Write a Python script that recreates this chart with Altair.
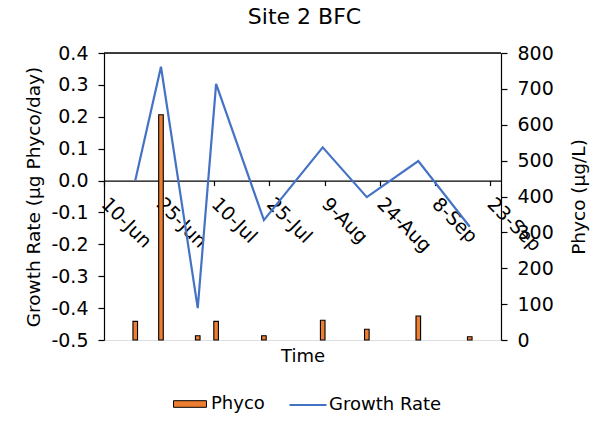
import altair as alt
import pandas as pd

# Sampling dates at Site 2 BFC
dates = ["2019-06-18", "2019-06-25", "2019-07-05", "2019-07-10", "2019-07-23",
         "2019-08-08", "2019-08-20", "2019-09-03", "2019-09-17"]
# Growth rate (µg Phyco/day)
growth = [0.0, 0.357, -0.400, 0.303, -0.124, 0.104, -0.052, 0.061, -0.145]
# Phycocyanin concentration (µg/L)
phyco = [52, 628, 12, 52, 12, 55, 30, 67, 9]

# Axis tick values
x_ticks = ["2019-06-10", "2019-06-25", "2019-07-10", "2019-07-25",
           "2019-08-09", "2019-08-24", "2019-09-08", "2019-09-23"]
x_range = ["2019-06-10", "2019-09-26"]
growth_ticks = [-0.5, -0.4, -0.3, -0.2, -0.1, 0.0, 0.1, 0.2, 0.3, 0.4]
phyco_ticks = [0, 100, 200, 300, 400, 500, 600, 700, 800]

chart_title = "Site 2 BFC"

FONT = "DejaVu Sans"
TICK_SIZE = 19
ORANGE = "#ED7D31"
BLUE = "#4472C4"


def dt(s):
    y, m, d = (int(p) for p in s.split("-"))
    return alt.DateTime(year=y, month=m, date=d, utc=True)


bar_df = pd.DataFrame({"date": dates, "phyco": phyco, "series": "Phyco"})
line_df = pd.DataFrame({"date": dates, "growth": growth, "series": "Growth Rate"})
title_df = pd.DataFrame({"title": [chart_title]})

width = 397
height = 287
zero_y = height * (0.4 / 0.9)

x_axis = alt.Axis(
    values=[dt(s) for s in x_ticks],
    labelExpr="utcFormat(datum.value, '%-d-%b')",
    labelAngle=45,
    labelAlign="left",
    labelBaseline="middle",
    labelPadding=15,
    labelOverlap=False,
    labelFlush=False,
    labelFont=FONT,
    labelFontSize=TICK_SIZE,
    labelColor="black",
    tickSize=5,
    tickColor="black",
    tickWidth=1.2,
    domainColor="black",
    domainWidth=1.2,
    offset=-(height - zero_y),
    grid=False,
    title="Time",
    titleFont=FONT,
    titleFontSize=18,
    titleFontWeight="normal",
    titleColor="black",
    titleBaseline="alphabetic",
    titleY=181,
)

x_scale = alt.Scale(type="utc", domain=[dt(s) for s in x_range])

bars = alt.Chart(bar_df).mark_bar(
    stroke="black", strokeWidth=1.1, width=4.6
).encode(
    x=alt.X("date:T", timeUnit="utcyearmonthdate", bandPosition=0.5,
            scale=x_scale, axis=x_axis),
    y=alt.Y(
        "phyco:Q",
        scale=alt.Scale(domain=[0, 800], nice=False),
        axis=alt.Axis(
            orient="right",
            values=phyco_ticks,
            grid=False,
            labelFont=FONT,
            labelFontSize=TICK_SIZE,
            labelColor="black",
            labelPadding=10,
            tickSize=6,
            tickColor="black",
            tickWidth=1.2,
            domainColor="black",
            domainWidth=1.2,
            title="Phyco (µg/L)",
            titleFont=FONT,
            titleFontSize=18.5,
            titleFontWeight="normal",
            titleColor="black",
            titleAngle=-90,
            titleAlign="center",
            titleBaseline="middle",
            titleX=77,
            titleY=height / 2,
        ),
    ),
    fill=alt.Fill(
        "series:N",
        scale=alt.Scale(domain=["Phyco"], range=[ORANGE]),
        legend=alt.Legend(
            title=None,
            orient="none",
            legendX=69,
            legendY=334,
            padding=0,
            symbolType="M-1,-0.2H1V0.2H-1Z",
            symbolSize=1089,
            symbolStrokeColor="black",
            symbolStrokeWidth=1,
            labelFont=FONT,
            labelFontSize=18,
            labelColor="black",
            labelOffset=4,
        ),
    ),
)

line = alt.Chart(line_df).mark_line(strokeWidth=2.2).encode(
    x=alt.X("date:T", timeUnit="utcyearmonthdate", bandPosition=0.5,
            scale=x_scale, axis=x_axis),
    y=alt.Y(
        "growth:Q",
        scale=alt.Scale(domain=[-0.5, 0.4], nice=False, zero=False),
        axis=alt.Axis(
            orient="left",
            values=growth_ticks,
            labelExpr="replace(format(datum.value, '.1f'), '\u2212', '-')",
            grid=False,
            labelFont=FONT,
            labelFontSize=TICK_SIZE,
            labelColor="black",
            labelPadding=10,
            tickSize=6,
            tickColor="black",
            tickWidth=1.2,
            domainColor="black",
            domainWidth=1.2,
            title="Growth Rate (µg Phyco/day)",
            titleFont=FONT,
            titleFontSize=18.5,
            titleFontWeight="normal",
            titleColor="black",
            titleAngle=-90,
            titleAlign="center",
            titleBaseline="middle",
            titleX=-71,
            titleY=height / 2,
        ),
    ),
    stroke=alt.Stroke(
        "series:N",
        scale=alt.Scale(domain=["Growth Rate"], range=[BLUE]),
        legend=alt.Legend(
            title=None,
            orient="none",
            legendX=184,
            legendY=332,
            padding=0,
            symbolType="stroke",
            symbolSize=1369,
            symbolStrokeWidth=2.2,
            labelFont=FONT,
            labelFontSize=18,
            labelColor="black",
            labelOffset=1,
        ),
    ),
)

# Top edge of the plot frame
frame_top = alt.Chart(title_df).mark_rule(color="black", strokeWidth=1.3).encode(
    x=alt.value(0), x2=alt.value(width), y=alt.value(0)
)

# Chart heading, centred above the plot area
heading = alt.Chart(title_df).mark_text(
    font=FONT, fontSize=22, color="black", align="center", baseline="alphabetic"
).encode(
    text="title:N",
    x=alt.value(width / 2 + 2),
    y=alt.value(-29),
)

chart = (
    alt.layer(bars, line, frame_top, heading)
    .resolve_scale(y="independent", fill="independent", stroke="independent")
    .properties(
        width=width,
        height=height,
        autosize=alt.AutoSizeParams(type="none"),
        padding={"left": 104, "top": 53, "right": 96, "bottom": 81},
    )
    .configure_view(stroke="black", strokeWidth=1.3)
    .configure(background="white")
)

chart.save("out.html", embed_options={"renderer": "svg", "actions": False})
